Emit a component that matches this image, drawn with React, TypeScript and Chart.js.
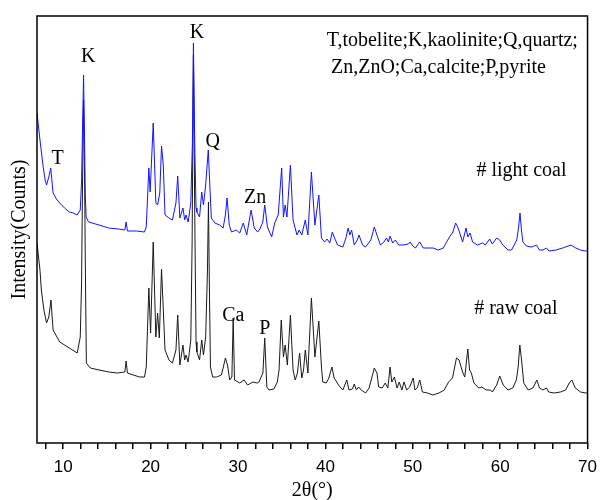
import React, { useEffect, useRef } from 'react';
import { Chart, registerables } from 'chart.js';

Chart.register(...registerables);

// 2θ (deg), intensity (arbitrary counts) — light coal (blue)
const lightCoal: [number, number][] = [
  [7.0, 330], [7.34, 303], [7.71, 276], [7.93, 263], [8.09, 258], [8.35, 266], [8.57, 275],
  [8.84, 250], [9.22, 244], [9.6, 240], [10.15, 235], [10.7, 231], [11.16, 230], [11.6, 228],
  [11.95, 233], [12.1, 262], [12.22, 320], [12.33, 368], [12.43, 310], [12.52, 250], [12.62, 226],
  [12.9, 221], [14.1, 218], [15.2, 215], [16.3, 214], [17.05, 213], [17.2, 221], [17.35, 212],
  [18.4, 212], [19.3, 211], [19.5, 216], [19.8, 275], [19.95, 251], [20.3, 320], [20.6, 240],
  [20.8, 238], [21.05, 250], [21.25, 297], [21.45, 278], [21.65, 228], [22.1, 225], [22.5, 223],
  [22.9, 240], [23.1, 267], [23.35, 225], [23.7, 235], [23.9, 223], [24.05, 228], [24.3, 221],
  [24.6, 240], [24.78, 300], [24.9, 400], [25.05, 300], [25.2, 235], [25.3, 231], [25.6, 226],
  [25.85, 251], [26.05, 238], [26.3, 258], [26.6, 293], [26.8, 253], [26.95, 225], [27.35, 220],
  [27.9, 218], [28.3, 215], [28.56, 228], [28.75, 245], [29.0, 218], [29.25, 211], [29.8, 213],
  [30.2, 210], [30.6, 220], [31.0, 208], [31.5, 233], [31.86, 215], [32.25, 211], [32.5, 214],
  [32.84, 221], [33.06, 238], [33.37, 216], [33.85, 206], [34.2, 220], [34.6, 228], [35.0, 275],
  [35.2, 226], [35.4, 238], [35.6, 226], [36.0, 278], [36.3, 223], [36.75, 208], [37.0, 213],
  [37.3, 208], [37.7, 223], [38.0, 208], [38.4, 271], [38.8, 218], [39.25, 248], [39.55, 205],
  [39.9, 201], [40.2, 204], [40.5, 200], [40.8, 211], [41.05, 205], [41.4, 198], [42.0, 196],
  [42.35, 205], [42.6, 215], [42.8, 208], [43.0, 213], [43.3, 198], [43.65, 203], [43.85, 208],
  [44.25, 198], [44.6, 196], [45.2, 203], [45.6, 216], [45.9, 208], [46.3, 198], [46.7, 201],
  [47.0, 205], [47.2, 201], [47.4, 207], [47.7, 200], [48.0, 203], [48.4, 198], [48.9, 198],
  [49.5, 199], [49.7, 201], [50.0, 197], [50.3, 195], [50.8, 201], [51.2, 195], [51.8, 195],
  [52.35, 195], [52.9, 193], [53.5, 195], [53.8, 200], [54.2, 206], [54.6, 211], [54.9, 220],
  [55.15, 216], [55.45, 208], [55.7, 201], [56.1, 215], [56.3, 206], [56.55, 210], [56.85, 201],
  [57.4, 198], [58.0, 200], [58.3, 198], [58.8, 204], [59.1, 199], [59.6, 205], [59.95, 203],
  [60.3, 198], [60.9, 193], [61.3, 193], [61.6, 198], [61.9, 203], [62.1, 215], [62.27, 230],
  [62.45, 212], [62.6, 201], [63.0, 197], [63.6, 196], [64.15, 198], [64.5, 193], [64.9, 193],
  [65.3, 195], [65.6, 192], [66.4, 193], [67.15, 195], [68.1, 198], [68.65, 195], [69.2, 193],
  [69.8, 192], [70.0, 192],
];

// 2θ (deg), intensity (arbitrary counts) — raw coal (black)
const rawCoal: [number, number][] = [
  [7.0, 200], [7.34, 173], [7.5, 153], [7.79, 133], [8.09, 120], [8.35, 126], [8.6, 143],
  [8.84, 113], [9.6, 101], [10.7, 95], [11.6, 90], [11.95, 106], [12.1, 160], [12.2, 250],
  [12.33, 343], [12.45, 260], [12.55, 160], [12.65, 80], [13.1, 75], [14.1, 73], [15.2, 71],
  [16.2, 70], [17.05, 71], [17.2, 82], [17.35, 70], [18.0, 68], [18.75, 66], [19.3, 66],
  [19.5, 76], [19.8, 155], [20.0, 110], [20.3, 201], [20.6, 106], [20.8, 130], [21.0, 105],
  [21.25, 174], [21.45, 134], [21.65, 93], [22.1, 83], [22.5, 80], [22.9, 93], [23.1, 128],
  [23.35, 78], [23.7, 98], [23.9, 83], [24.05, 88], [24.3, 81], [24.6, 103], [24.75, 200],
  [24.9, 388], [25.05, 230], [25.2, 101], [25.3, 91], [25.6, 83], [25.85, 103], [26.05, 88],
  [26.3, 106], [26.5, 170], [26.62, 241], [26.72, 160], [26.85, 76], [27.1, 66], [27.55, 66],
  [28.1, 68], [28.3, 75], [28.56, 85], [28.8, 78], [29.05, 63], [29.3, 66], [29.45, 125],
  [29.6, 63], [30.2, 60], [30.7, 63], [31.1, 58], [31.7, 61], [32.2, 60], [32.4, 61],
  [32.85, 70], [33.06, 105], [33.3, 56], [33.55, 53], [34.1, 54], [34.5, 61], [34.7, 73],
  [34.95, 123], [35.2, 86], [35.4, 98], [35.65, 78], [36.0, 128], [36.3, 73], [36.55, 63],
  [36.8, 70], [37.05, 90], [37.3, 65], [37.5, 73], [37.7, 93], [38.0, 70], [38.4, 145],
  [38.8, 86], [39.25, 122], [39.55, 76], [39.7, 61], [40.1, 60], [40.4, 65], [40.75, 76],
  [41.0, 65], [41.3, 61], [41.5, 58], [42.0, 53], [42.45, 63], [42.7, 53], [43.1, 54],
  [43.3, 59], [43.55, 53], [43.8, 56], [44.1, 53], [44.6, 50], [45.0, 55], [45.25, 63],
  [45.6, 75], [45.9, 70], [46.1, 56], [46.5, 55], [46.85, 60], [47.15, 55], [47.4, 76],
  [47.6, 61], [47.9, 66], [48.2, 55], [48.45, 61], [48.75, 53], [49.0, 61], [49.3, 53],
  [49.65, 56], [50.05, 65], [50.25, 53], [50.5, 55], [50.8, 63], [51.1, 51], [51.7, 50],
  [52.3, 48], [53.0, 50], [53.6, 53], [54.1, 61], [54.55, 65], [55.0, 85], [55.3, 83],
  [55.7, 71], [55.95, 66], [56.3, 94], [56.5, 73], [56.7, 70], [57.0, 60], [57.55, 55],
  [57.9, 56], [58.4, 53], [58.9, 53], [59.1, 51], [59.6, 58], [59.95, 67], [60.35, 58],
  [60.9, 53], [61.45, 55], [61.85, 63], [62.05, 75], [62.25, 98], [62.45, 83], [62.7, 60],
  [63.2, 53], [63.75, 55], [64.2, 63], [64.5, 55], [64.9, 53], [65.3, 55], [65.55, 51],
  [66.2, 50], [66.9, 51], [67.5, 53], [67.9, 60], [68.2, 63], [68.6, 55], [69.2, 51],
  [69.8, 50], [70.0, 50],
];

const xTickValues = [8, 10, 12, 14, 16, 18, 20, 22, 24, 26, 28, 30, 32, 34, 36, 38, 40, 42, 44, 46, 48, 50, 52, 54, 56, 58, 60, 62, 64, 66, 68, 70];
const xLabelledTicks = [10, 20, 30, 40, 50, 60, 70];

const peakLabels = ['T', 'K', 'K', 'Q', 'Zn', 'Ca', 'P'];
const peakLabelTheta = [9.36, 12.85, 25.3, 27.1, 31.97, 29.47, 33.07];
const peakLabelCounts = [279, 381, 405, 296, 240, 122, 109];

const noteLines = ['T,tobelite;K,kaolinite;Q,quartz;', 'Zn,ZnO;Ca,calcite;P,pyrite', '# light coal', '# raw coal'];
const noteTheta = [40.15, 40.64, 57.29, 57.03];
const noteCounts = [397, 370, 267, 129];

const SERIF = '"Liberation Serif", "Times New Roman", serif';
const SANS = '"Liberation Sans", Arial, sans-serif';

const textPlugin = {
  id: 'xrdText',
  afterDatasetsDraw(chart: any) {
    const { ctx, chartArea, scales } = chart;
    const x = scales.x;
    const y = scales.y;
    ctx.save();
    ctx.strokeStyle = '#000';
    ctx.lineWidth = 1.5;
    ctx.strokeRect(chartArea.left, chartArea.top, chartArea.right - chartArea.left, chartArea.bottom - chartArea.top);
    ctx.fillStyle = '#000';
    ctx.font = '20px ' + SERIF;
    ctx.textBaseline = 'alphabetic';
    ctx.textAlign = 'center';
    peakLabels.forEach((t, i) => {
      ctx.fillText(t, x.getPixelForValue(peakLabelTheta[i]), y.getPixelForValue(peakLabelCounts[i]));
    });
    ctx.textAlign = 'left';
    noteLines.forEach((t, i) => {
      ctx.fillText(t, x.getPixelForValue(noteTheta[i]), y.getPixelForValue(noteCounts[i]));
    });
    ctx.restore();
  },
};

export default function App() {
  const canvasRef = useRef<HTMLCanvasElement | null>(null);

  useEffect(() => {
    const canvas = canvasRef.current;
    if (!canvas) return;
    const chart = new Chart(canvas, {
      type: 'line',
      data: {
        datasets: [
          {
            label: 'light coal',
            data: lightCoal.map(([t, c]) => ({ x: t, y: c })),
            borderColor: '#1414ff',
            borderWidth: 1,
            pointRadius: 0,
            tension: 0,
            fill: false,
          },
          {
            label: 'raw coal',
            data: rawCoal.map(([t, c]) => ({ x: t, y: c })),
            borderColor: '#1a1a1a',
            borderWidth: 1,
            pointRadius: 0,
            tension: 0,
            fill: false,
          },
        ],
      },
      options: {
        responsive: false,
        animation: false,
        devicePixelRatio: 1,
        layout: { padding: { top: 16, right: 8, left: 0, bottom: 0 } },
        plugins: { legend: { display: false }, tooltip: { enabled: false } },
        scales: {
          x: {
            type: 'linear',
            min: 7,
            max: 70,
            afterFit: (s: any) => { s.height = 57; },
            afterBuildTicks: (s: any) => { s.ticks = xTickValues.map((v) => ({ value: v })); },
            border: { display: false },
            grid: { display: true, drawOnChartArea: false, drawTicks: true, tickLength: 6, color: '#000', lineWidth: 1.5 },
            ticks: {
              autoSkip: false,
              maxRotation: 0,
              minRotation: 0,
              padding: 8,
              color: '#000',
              font: { family: SANS, size: 17 },
              callback: (v: any) => (xLabelledTicks.includes(Number(v)) ? String(v) : ''),
            },
            title: {
              display: true,
              text: '2θ(°)',
              color: '#000',
              font: { family: SERIF, size: 20, lineHeight: 1 },
              padding: { top: 0, bottom: -1 },
            },
          },
          y: {
            min: 0,
            max: 427,
            afterFit: (s: any) => { s.width = 37; },
            border: { display: false },
            grid: { display: false },
            ticks: { display: false },
            title: {
              display: true,
              text: 'Intensity(Counts)',
              color: '#000',
              font: { family: SERIF, size: 20 },
              padding: { top: 8, bottom: 0 },
            },
          },
        },
      },
      plugins: [textPlugin],
    });
    return () => chart.destroy();
  }, []);

  return (
    <div style={{ position: 'absolute', left: 0, top: 0, width: 605, height: 500, background: '#fff' }}>
      <canvas ref={canvasRef} width={605} height={500} style={{ display: 'block', width: 605, height: 500 }} />
    </div>
  );
}
